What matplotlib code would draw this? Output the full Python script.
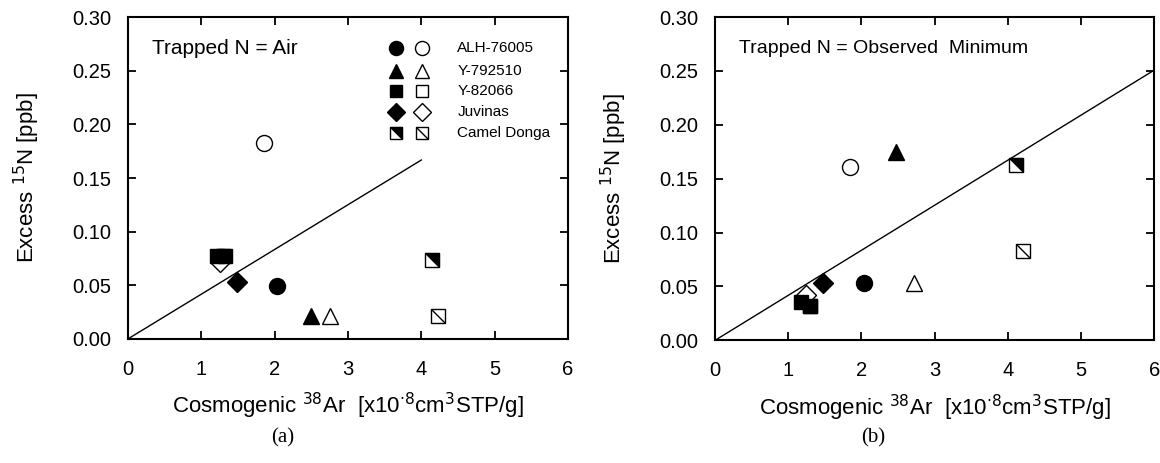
import matplotlib
matplotlib.use("Agg")
import matplotlib.pyplot as plt
import numpy as np
from matplotlib.path import Path

plt.rcParams['font.family'] = ['Liberation Sans', 'DejaVu Sans']

# meteorites, fill = filled marker, open = open marker
names = ["ALH-76005", "Y-792510", "Y-82066", "Juvinas", "Camel Donga"]

# panel (a): trapped N = air
a_filled_x = [2.03, 2.50, 1.22, 1.48, 4.14]
a_filled_y = [0.049, 0.021, 0.077, 0.053, 0.074]
a_open_x = [1.855, 2.75, 1.30, 1.25, 4.23]
a_open_y = [0.183, 0.021, 0.077, 0.072, 0.021]
a_extra_sq_x = [1.32]
a_extra_sq_y = [0.077]
a_line_x = [0, 4.0]
a_slope = 0.0417

# panel (b): trapped N = observed minimum
b_filled_x = [2.03, 2.47, 1.17, 1.475, 4.11]
b_filled_y = [0.053, 0.175, 0.036, 0.053, 0.163]
b_open_x = [1.84, 2.72, 1.29, 1.24, 4.21]
b_open_y = [0.161, 0.053, 0.032, 0.042, 0.083]
b_extra_sq_x = [1.29]
b_extra_sq_y = [0.032]
b_line_x = [0, 6.0]
b_slope = 0.0418

# custom markers for camel donga
tri_ur = Path([(-1, 1), (1, 1), (1, -1), (-1, 1)], [1, 2, 2, 79])
diag = Path([(-1, 1), (1, -1)], [1, 2])

mk = ['o', '^', 's', 'D', 's']
ms = [11.5, 12, 10.5, 10, 10]


def draw_point(ax, x, y, i, filled, scale=1.0):
    size = ms[i] * scale
    if i == 4:
        ax.plot(x, y, marker='s', ms=size, mfc='white', mec='black', mew=1.0, ls='none', zorder=5)
        if filled:
            ax.plot(x, y, marker=tri_ur, ms=size, mfc='black', mec='black', mew=0.8, ls='none', zorder=6)
        else:
            ax.plot(x, y, marker=diag, ms=size, mfc='none', mec='black', mew=1.0, ls='none', zorder=6)
    else:
        ax.plot(x, y, marker=mk[i], ms=size, mfc='black' if filled else 'white',
                mec='black', mew=1.0, ls='none', zorder=5 if filled else 4)


def style_axes(ax):
    ax.set_xlim(0, 6)
    ax.set_ylim(0, 0.30)
    ax.set_xticks(np.arange(0, 7, 1))
    ax.set_yticks(np.arange(0, 0.31, 0.05))
    ax.set_yticklabels(["%.2f" % v for v in np.arange(0, 0.31, 0.05)])
    ax.tick_params(direction='in', length=6, width=1.3, top=True, right=True,
                   labelsize=14.5)
    ax.tick_params(axis='y', pad=12)
    ax.tick_params(axis='x', pad=15)
    for s in ax.spines.values():
        s.set_linewidth(1.5)
    ax.set_xlabel(r"Cosmogenic $^{38}$Ar  [x10$^{\cdot 8}$cm$^{3}$STP/g]", fontsize=16, labelpad=9)
    ax.set_ylabel(r"Excess $^{15}$N [ppb]", fontsize=16, labelpad=22)


fig = plt.figure(figsize=(11.6, 4.63), dpi=100)
ax1 = fig.add_axes([0.1103, 0.268, 0.3794, 0.695])
ax2 = fig.add_axes([0.6165, 0.265, 0.3785, 0.698])

# (a)
xx = np.array(a_line_x)
ax1.plot(xx, a_slope * xx, color='black', lw=1.0, zorder=2)
for i in range(5):
    draw_point(ax1, a_open_x[i], a_open_y[i], i, False)
ax1.plot(a_extra_sq_x, a_extra_sq_y, marker='s', ms=ms[2], mfc='black', mec='black', ls='none', zorder=5)
for i in range(5):
    draw_point(ax1, a_filled_x[i], a_filled_y[i], i, True)
ax1.text(0.33, 0.271, "Trapped N = Air", fontsize=15, va='center')

# legend drawn inside panel (a)
leg_y = [0.271, 0.250, 0.231, 0.212, 0.192]
for i in range(5):
    draw_point(ax1, 3.66, leg_y[i], i, True, 0.88)
    draw_point(ax1, 4.01, leg_y[i], i, False, 0.88)
    ax1.text(4.49, leg_y[i], names[i], fontsize=11, va='center')
style_axes(ax1)

# (b)
xx = np.array(b_line_x)
ax2.plot(xx, b_slope * xx, color='black', lw=1.0, zorder=2)
for i in range(5):
    draw_point(ax2, b_open_x[i], b_open_y[i], i, False)
ax2.plot(b_extra_sq_x, b_extra_sq_y, marker='s', ms=ms[2], mfc='black', mec='black', ls='none', zorder=5)
for i in range(5):
    draw_point(ax2, b_filled_x[i], b_filled_y[i], i, True)
ax2.text(0.33, 0.271, "Trapped N = Observed  Minimum", fontsize=14, va='center')
style_axes(ax2)

fig.text(283 / 1160, 1 - 438 / 463, "(a)", family='Liberation Serif', fontsize=15, ha='center', va='center')
fig.text(873 / 1160, 1 - 438 / 463, "(b)", family='Liberation Serif', fontsize=15, ha='center', va='center')

fig.savefig("out.png", dpi=100)
